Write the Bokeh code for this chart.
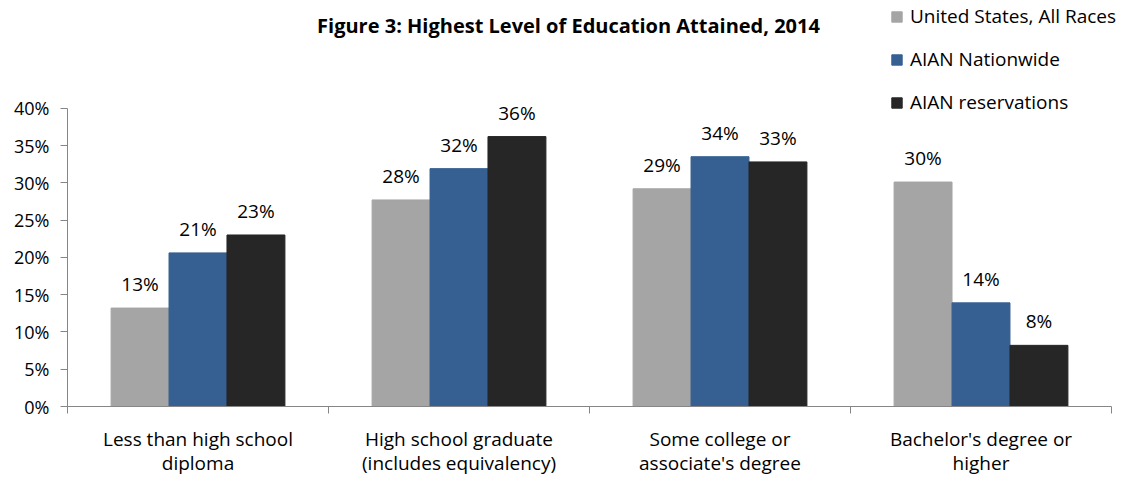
from bokeh.plotting import figure
from bokeh.models import (Range1d, LinearAxis, FixedTicker,
                          LabelSet, Legend, LegendItem, Label, ColumnDataSource)
from bokeh.core.properties import value
from bokeh.transform import dodge
from bokeh.embed import file_html
from bokeh.resources import INLINE

categories = ["Less than high school\ndiploma",
              "High school graduate\n(includes equivalency)",
              "Some college or\nassociate's degree",
              "Bachelor's degree or\nhigher"]
series_names = ["United States, All Races", "AIAN Nationwide", "AIAN reservations"]
us_all_races = [13.2, 27.7, 29.2, 30.1]
aian_nationwide = [20.6, 31.9, 33.5, 13.9]
aian_reservations = [23.0, 36.2, 32.8, 8.2]
y_ticks = [0, 5, 10, 15, 20, 25, 30, 35, 40]
y_max = 40
title_text = "Figure 3: Highest Level of Education Attained, 2014"

colors = ["#A5A5A5", "#366092", "#262626"]
FONT = "Open Sans"
AXIS_COLOR = "#868686"

n = len(categories)
centers = [i + 0.5 for i in range(n)]
bounds = list(range(n + 1))

src = ColumnDataSource(dict(
    pos=centers,
    us=us_all_races,
    nat=aian_nationwide,
    res=aian_reservations,
    us_lbl=[f"{round(v)}%" for v in us_all_races],
    nat_lbl=[f"{round(v)}%" for v in aian_nationwide],
    res_lbl=[f"{round(v)}%" for v in aian_reservations],
))

W, H = 1141, 479
left_px, right_axis_px = 67, 1111
border_bottom = 72
frame_h = H - border_bottom
plot_top_px = 108  # pixel where the 40% line sits; space above holds title and legend
y_end = y_max * frame_h / (frame_h - plot_top_px)
x_end = n * (W - left_px) / (right_axis_px - left_px)

p = figure(width=W, height=H, x_range=Range1d(0, x_end), y_range=Range1d(0, y_end),
           output_backend="svg", toolbar_location=None, x_axis_location=None,
           y_axis_location=None, min_border_left=left_px, min_border_right=0,
           min_border_top=0, min_border_bottom=border_bottom)
p.outline_line_color = None
p.xgrid.grid_line_color = None
p.ygrid.grid_line_color = None
p.background_fill_color = "white"

bw = 0.222
offsets = [-bw, 0.0, bw]
fields = ["us", "nat", "res"]
lbls = ["us_lbl", "nat_lbl", "res_lbl"]
renderers = []
for f, off, c, lf in zip(fields, offsets, colors, lbls):
    r = p.vbar(x=dodge("pos", off), top=f, width=bw, source=src,
               fill_color=c, line_color=c)
    renderers.append(r)
    ls = LabelSet(x=dodge("pos", off), y=f, text=lf, source=src,
                  text_align="center", text_baseline="middle", y_offset=24,
                  text_font=value(FONT), text_font_size="19px", text_color="#000000")
    p.add_layout(ls)

# y axis
yax = LinearAxis(ticker=FixedTicker(ticks=y_ticks), bounds=(0, y_max),
                 major_label_overrides={t: f"{t}%" for t in y_ticks})
yax.axis_line_color = AXIS_COLOR
yax.major_tick_line_color = AXIS_COLOR
yax.major_tick_in = 0
yax.major_tick_out = 7
yax.minor_tick_line_color = None
yax.major_label_standoff = 11
yax.major_label_text_font = FONT
yax.major_label_text_font_size = "18px"
yax.major_label_text_color = "#000000"
p.add_layout(yax, "left")

# x axis: labels at category centres, boundary ticks as minor ticks
xax = LinearAxis(ticker=FixedTicker(ticks=centers, minor_ticks=bounds), bounds=(0, n),
                 major_label_overrides={c: lab for c, lab in zip(centers, categories)})
xax.axis_line_color = AXIS_COLOR
xax.major_tick_line_color = None
xax.major_tick_in = 0
xax.major_tick_out = 7
xax.minor_tick_line_color = AXIS_COLOR
xax.minor_tick_in = 0
xax.minor_tick_out = 7
xax.major_label_standoff = 12
xax.major_label_text_font = FONT
xax.major_label_text_font_size = "19px"
xax.major_label_text_line_height = 0.95
xax.major_label_text_color = "#000000"
p.add_layout(xax, "below")

# title
p.add_layout(Label(x=501, y=frame_h - 26, x_units="screen", y_units="screen", text=title_text,
                   text_align="center", text_baseline="middle", text_font=FONT,
                   text_font_size="20px", text_font_style="bold", text_color="#000000"))

legend = Legend(items=[LegendItem(label=nm, renderers=[r]) for nm, r in zip(series_names, renderers)],
                location=(823, frame_h - 116), orientation="vertical")
legend.glyph_width = 13
legend.glyph_height = 13
legend.label_standoff = 7
legend.label_height = 20
legend.spacing = 17
legend.padding = 0
legend.margin = 0
legend.border_line_color = None
legend.background_fill_alpha = 0
legend.label_text_font = FONT
legend.label_text_font_size = "19px"
legend.label_text_color = "#000000"
p.add_layout(legend)

open("out.html", "w").write(file_html(p, INLINE))
